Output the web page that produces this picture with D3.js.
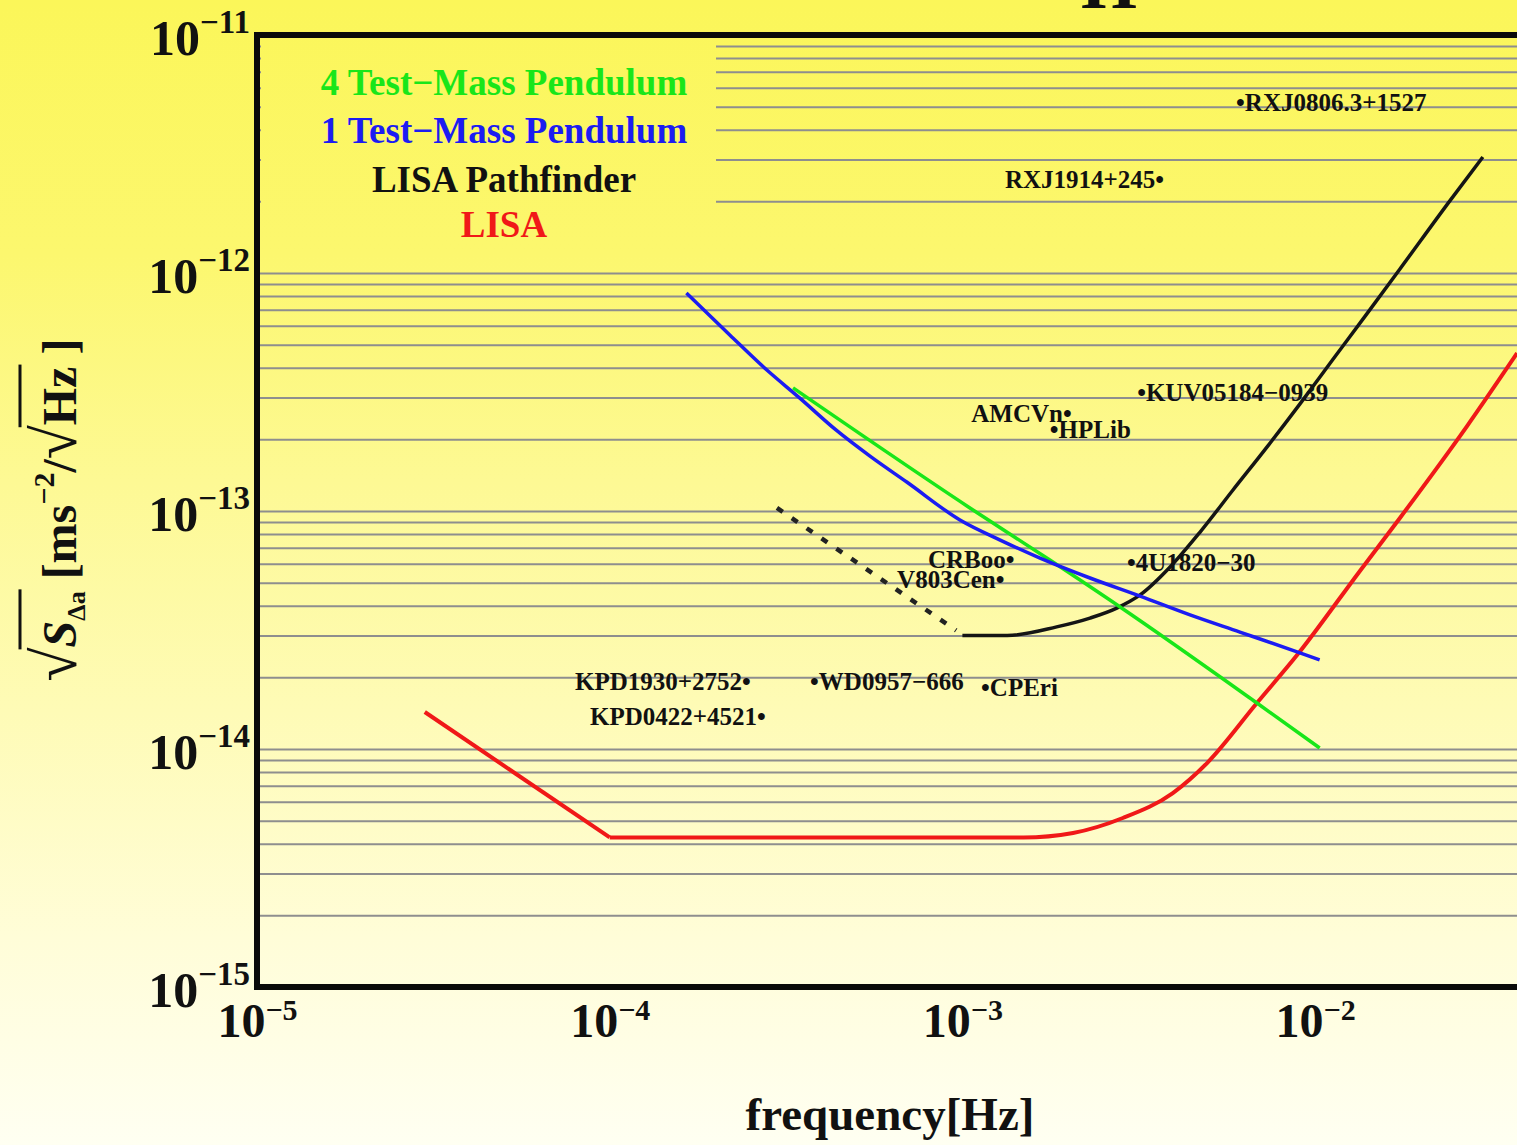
<!DOCTYPE html>
<html>
<head>
<meta charset="utf-8">
<script src="https://cdn.jsdelivr.net/npm/d3@7"></script>
<style>
  body { margin: 0; overflow: hidden; }
  svg { display: block; }
</style>
</head>
<body>
<script>
// ---- data ----

// LISA (red)
var lisaFreq = [2.99e-5, 1.0e-4, 1.49e-3, 2.06e-3, 2.85e-3, 3.95e-3, 4.94e-3, 6.84e-3, 8.89e-3, 1.34e-2, 1.74e-2, 2.70e-2, 3.74e-2];
var lisaAsd  = [1.43e-14, 4.25e-15, 4.25e-15, 4.44e-15, 5.13e-15, 6.53e-15, 8.73e-15, 1.56e-14, 2.48e-14, 5.6e-14, 9.35e-14, 2.28e-13, 4.61e-13];

// LISA Pathfinder (black), dashed extension below 1 mHz
var pfDashFreq = [2.98e-4, 9.6e-4];
var pfDashAsd  = [1.03e-13, 3.15e-14];
var pfFreq = [1.0e-3, 1.34e-3, 1.85e-3, 2.30e-3, 2.74e-3, 3.19e-3, 3.88e-3, 4.72e-3, 5.85e-3, 7.31e-3, 9.06e-3, 1.12e-2, 1.40e-2, 1.74e-2, 2.41e-2, 2.99e-2];
var pfAsd  = [3.0e-14, 3.0e-14, 3.26e-14, 3.55e-14, 3.91e-14, 4.44e-14, 5.82e-14, 8.16e-14, 1.225e-13, 1.86e-13, 2.82e-13, 4.31e-13, 6.72e-13, 1.04e-12, 2.01e-12, 3.07e-12];

// 1 test-mass pendulum (blue)
var tm1Freq = [1.65e-4, 2.19e-4, 2.79e-4, 3.46e-4, 4.38e-4, 5.47e-4, 6.97e-4, 9.84e-4, 1.28e-3, 1.66e-3, 2.30e-3, 3.19e-3, 4.42e-3, 6.12e-3, 8.89e-3, 1.03e-2];
var tm1Asd  = [8.24e-13, 5.49e-13, 3.91e-13, 2.98e-13, 2.19e-13, 1.70e-13, 1.32e-13, 9.17e-14, 7.55e-14, 6.34e-14, 5.23e-14, 4.39e-14, 3.66e-14, 3.10e-14, 2.56e-14, 2.37e-14];

// 4 test-mass pendulum (green)
var tm4Freq = [3.31e-4, 1.04e-3, 1.77e-3, 2.80e-3, 6.84e-3, 1.03e-2];
var tm4Asd  = [3.29e-13, 1.04e-13, 6.22e-14, 3.95e-14, 1.56e-14, 1.01e-14];

// known binaries (label start point)
var srcNames = ["\u2022RXJ0806.3+1527", "RXJ1914+245\u2022", "\u2022KUV05184\u22120939", "AMCVn\u2022", "\u2022HPLib",
                "CRBoo\u2022", "V803Cen\u2022", "\u20224U1820\u221230", "KPD1930+2752\u2022", "\u2022WD0957\u2212666",
                "\u2022CPEri", "KPD0422+4521\u2022"];
var srcFreq = [5.97e-3, 1.32e-3, 3.13e-3, 1.06e-3, 1.77e-3, 7.99e-4, 6.53e-4, 2.93e-3, 7.97e-5, 3.70e-4, 1.13e-3, 8.79e-5];
var srcAsd  = [5.18e-12, 2.46e-12, 3.13e-13, 2.56e-13, 2.19e-13, 6.22e-14, 5.13e-14, 6.05e-14, 1.91e-14, 1.91e-14, 1.80e-14, 1.36e-14];

var legendNames = ["4 Test\u2212Mass Pendulum", "1 Test\u2212Mass Pendulum", "LISA Pathfinder", "LISA"];
var legendColors = ["#19e619", "#1c1cf2", "#111111", "#f01818"];

var xTicks = [1e-5, 1e-4, 1e-3, 1e-2];
var xTickExp = ["\u22125", "\u22124", "\u22123", "\u22122"];
var yTicks = [1e-15, 1e-14, 1e-13, 1e-12, 1e-11];
var yTickExp = ["\u221215", "\u221214", "\u221213", "\u221212", "\u221211"];

// ---- drawing ----
var W = 1517, H = 1145;
var serif = "'Liberation Serif', 'DejaVu Serif', serif";

var svg = d3.select("body").append("svg")
    .attr("width", W)
    .attr("height", H);

// yellow-to-cream background
var grad = svg.append("defs").append("linearGradient")
    .attr("id", "bg")
    .attr("gradientUnits", "userSpaceOnUse")
    .attr("x1", 0).attr("y1", 0).attr("x2", 0).attr("y2", H);
[[0, "#fbf659"], [0.22, "#fcf76e"], [0.42, "#fdf994"], [0.62, "#fefbb6"], [0.82, "#fffdd8"], [1, "#fffff2"]]
    .forEach(function (s) {
        grad.append("stop").attr("offset", s[0]).attr("stop-color", s[1]);
    });

svg.append("rect")
    .attr("width", W)
    .attr("height", H)
    .attr("fill", "url(#bg)");

var x = d3.scaleLog().domain([1e-5, 1e-1]).range([257, 257 + 4 * 352.7]);
var y = d3.scaleLog().domain([1e-15, 1e-11]).range([987, 35]);

// horizontal grid on every minor decade step
var gridVals = [];
for (var e = -15; e < -11; e++) {
    for (var k = 1; k < 10; k++) {
        if (e === -15 && k === 1) continue;
        gridVals.push(k * Math.pow(10, e));
    }
}
var grid = svg.append("g")
    .attr("transform", "translate(" + x(1e-5) + ",0)")
    .call(d3.axisLeft(y).tickValues(gridVals).tickSize(-(W - x(1e-5))).tickFormat(""));
grid.select(".domain").remove();
grid.selectAll("line")
    .attr("stroke", "#8e8e8e")
    .attr("stroke-width", 2);

// legend box hides the grid
svg.append("rect")
    .attr("x", 261).attr("y", 38)
    .attr("width", 455).attr("height", 231)
    .attr("fill", "url(#bg)");

// curves
var line = d3.line()
    .x(function (d) { return x(d[0]); })
    .y(function (d) { return y(d[1]); });
var smooth = d3.line()
    .x(function (d) { return x(d[0]); })
    .y(function (d) { return y(d[1]); })
    .curve(d3.curveMonotoneX);

function pairs(f, v) { return f.map(function (d, i) { return [d, v[i]]; }); }

var lisa = pairs(lisaFreq, lisaAsd);
svg.append("path")
    .attr("d", line(lisa.filter(function (d) { return d[0] <= 1e-4; })))
    .attr("fill", "none").attr("stroke", legendColors[3]).attr("stroke-width", 4);
svg.append("path")
    .attr("d", smooth(lisa.filter(function (d) { return d[0] >= 1e-4; })))
    .attr("fill", "none").attr("stroke", legendColors[3]).attr("stroke-width", 4);

svg.append("path")
    .attr("d", line(pairs(pfDashFreq, pfDashAsd)))
    .attr("fill", "none").attr("stroke", "#222").attr("stroke-width", 4.5)
    .attr("stroke-dasharray", "7,11");
svg.append("path")
    .attr("d", smooth(pairs(pfFreq, pfAsd)))
    .attr("fill", "none").attr("stroke", "#151515").attr("stroke-width", 3.5);

svg.append("path")
    .attr("d", smooth(pairs(tm4Freq, tm4Asd)))
    .attr("fill", "none").attr("stroke", legendColors[0]).attr("stroke-width", 3.5);
svg.append("path")
    .attr("d", smooth(pairs(tm1Freq, tm1Asd)))
    .attr("fill", "none").attr("stroke", legendColors[1]).attr("stroke-width", 3.5);

// source labels
svg.append("g").selectAll("text")
    .data(srcNames)
    .enter().append("text")
    .attr("x", function (d, i) { return x(srcFreq[i]); })
    .attr("y", function (d, i) { return y(srcAsd[i]) + 8; })
    .style("font-family", serif)
    .style("font-weight", "bold")
    .style("font-size", "25px")
    .attr("fill", "#111")
    .text(function (d) { return d; });

// legend
svg.append("g").selectAll("text")
    .data(legendNames)
    .enter().append("text")
    .attr("x", 504)
    .attr("y", function (d, i) { return [95, 143, 192, 237][i]; })
    .attr("text-anchor", "middle")
    .style("font-family", serif)
    .style("font-weight", "bold")
    .style("font-size", "37px")
    .attr("fill", function (d, i) { return legendColors[i]; })
    .text(function (d) { return d; });

// x axis tick labels
var xAxis = svg.append("g")
    .attr("transform", "translate(0," + y(1e-15) + ")")
    .call(d3.axisBottom(x).tickValues(xTicks).tickSize(0).tickFormat(""));
xAxis.select(".domain").remove();
var xl = xAxis.selectAll(".tick").append("text")
    .attr("y", 50)
    .attr("text-anchor", "middle")
    .attr("fill", "#111")
    .style("font-family", serif)
    .style("font-weight", "bold");
xl.append("tspan").style("font-size", "48px").text("10");
xl.append("tspan").style("font-size", "30px").attr("dy", -17)
    .text(function (d, i) { return xTickExp[i]; });

// y axis tick labels
var yAxis = svg.append("g")
    .attr("transform", "translate(" + x(1e-5) + ",0)")
    .call(d3.axisLeft(y).tickValues(yTicks).tickSize(0).tickFormat(""));
yAxis.select(".domain").remove();
var yl = yAxis.selectAll(".tick").append("text")
    .attr("x", -7)
    .attr("y", 19)
    .attr("text-anchor", "end")
    .attr("fill", "#111")
    .style("font-family", serif)
    .style("font-weight", "bold");
yl.append("tspan").style("font-size", "50px").text("10");
yl.append("tspan").style("font-size", "33px").attr("dy", -22)
    .text(function (d, i) { return yTickExp[i]; });

// frame
var frame = svg.append("g").attr("stroke", "#0a0a0a").attr("stroke-width", 6).attr("stroke-linecap", "square");
frame.append("line").attr("x1", x(1e-5)).attr("x2", W + 5).attr("y1", y(1e-11)).attr("y2", y(1e-11));
frame.append("line").attr("x1", x(1e-5)).attr("x2", W + 5).attr("y1", y(1e-15)).attr("y2", y(1e-15));
frame.append("line").attr("x1", x(1e-5)).attr("x2", x(1e-5)).attr("y1", y(1e-11)).attr("y2", y(1e-15));

// axis titles
svg.append("text")
    .attr("x", 890).attr("y", 1130)
    .attr("text-anchor", "middle")
    .attr("fill", "#111")
    .style("font-family", serif)
    .style("font-weight", "bold")
    .style("font-size", "47px")
    .text("frequency[Hz]");

var yt = svg.append("g").attr("transform", "translate(76,510) rotate(-90)");
var ytText = yt.append("text")
    .attr("text-anchor", "middle")
    .attr("fill", "#111")
    .style("font-family", serif)
    .style("font-weight", "bold")
    .style("font-size", "48px");
ytText.append("tspan").style("font-size", "62px").style("font-weight", "normal").text("\u221A");
ytText.append("tspan").style("font-style", "italic").text("S");
ytText.append("tspan").style("font-size", "26px").attr("dy", 9).text("\u0394a");
ytText.append("tspan").attr("dy", -9).text(" [ms");
ytText.append("tspan").style("font-size", "30px").attr("dy", -22).text("\u22122");
ytText.append("tspan").attr("dy", 22).text("/");
ytText.append("tspan").style("font-size", "62px").style("font-weight", "normal").text("\u221A");
ytText.append("tspan").text("Hz");
ytText.append("tspan").text(" ]");

// overlines of the square roots
var n = ytText.node();
var ov = yt.append("g").attr("stroke", "#111").attr("stroke-width", 3);
ov.append("line")
    .attr("x1", n.getEndPositionOfChar(0).x - 2).attr("x2", n.getEndPositionOfChar(3).x + 2)
    .attr("y1", -56).attr("y2", -56);
ov.append("line")
    .attr("x1", n.getEndPositionOfChar(11).x - 2).attr("x2", n.getEndPositionOfChar(13).x + 2)
    .attr("y1", -56).attr("y2", -56);

// title, mostly cut off at the top of the picture
svg.append("text")
    .attr("x", 1109).attr("y", 8)
    .attr("text-anchor", "middle")
    .attr("fill", "#111")
    .style("font-family", serif)
    .style("font-weight", "bold")
    .style("font-size", "72px")
    .text("H");
</script>
</body>
</html>
